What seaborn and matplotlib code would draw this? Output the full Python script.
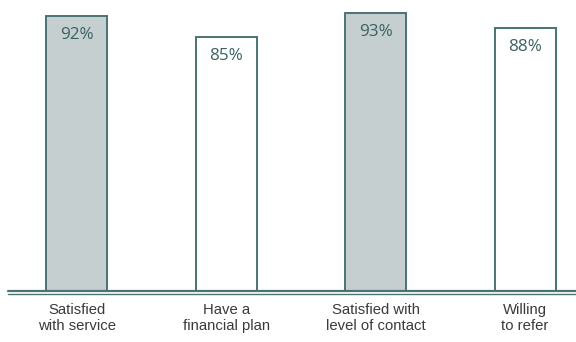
import matplotlib
matplotlib.use("Agg")
import matplotlib.pyplot as plt
import seaborn as sns
import pandas as pd

categories = ["Satisfied\nwith service", "Have a\nfinancial plan",
              "Satisfied with\nlevel of contact", "Willing\nto refer"]
values = [92, 85, 93, 88]
value_labels = ["92%", "85%", "93%", "88%"]
fill_colors = ["#c5cfcf", "#ffffff", "#c5cfcf", "#ffffff"]

sns.set_theme(style="white")
plt.rcParams['font.family'] = ['Liberation Sans', 'DejaVu Sans']

fig = plt.figure(figsize=(5.76, 3.42), dpi=100)
ax = fig.add_axes([8/576, 51.5/342, 1 - 8/576, 290.5/342])

df = pd.DataFrame({"cat": categories, "val": values})
sns.barplot(data=df, x="cat", y="val", hue="cat", palette=fill_colors,
            legend=False, width=0.41, edgecolor="#4b7373", linewidth=1.4, ax=ax,
            saturation=1)

ax.set_ylim(0, 97.5)
ax.set_xlim(-0.46, 3.34)
for s in ax.spines.values():
    s.set_visible(False)
ax.set_yticks([])
ax.set_xlabel("")
ax.set_ylabel("")
ax.tick_params(axis="x", length=0, pad=9, labelsize=10.7, labelcolor="#3a3a3a")

for i, (v, lab) in enumerate(zip(values, value_labels)):
    ax.text(i, v - 3.5, lab, ha="center", va="top", fontsize=12.3,
            color="#3a6161", family=["Open Sans", "DejaVu Sans"], fontweight="normal")

ax.axhline(0, color="#4b7373", linewidth=1.6, clip_on=False, zorder=5)
ax.axhline(-1.2, color="#4b7373", linewidth=1.0, clip_on=False, zorder=5)

fig.savefig("out.png", dpi=100)
